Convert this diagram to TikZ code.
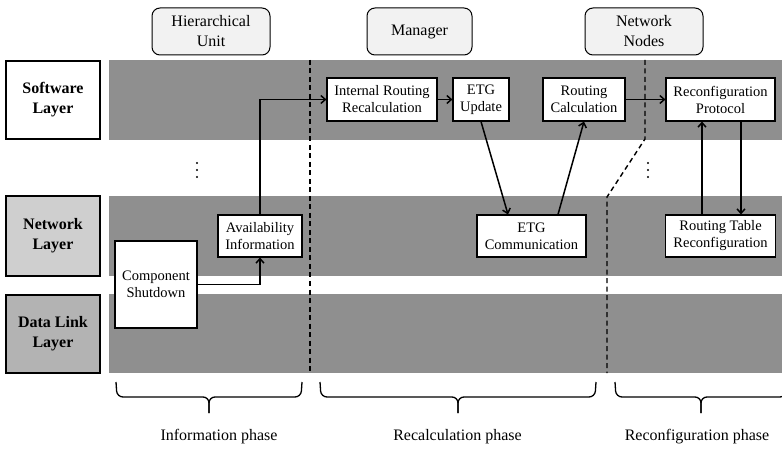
\documentclass[tikz,border=0pt]{standalone}
\usepackage{fontspec}
\setmainfont{Liberation Serif}
\usetikzlibrary{arrows.meta}

\definecolor{figBand}{HTML}{8F8F8F}
\definecolor{figNet}{HTML}{CFCFCF}
\definecolor{figLink}{HTML}{B3B3B3}
\definecolor{figHead}{HTML}{F2F2F2}

\begin{document}
\begin{tikzpicture}[x=1pt,y=-1pt,
    layerbox/.style={draw,line width=1.1pt,minimum width=94pt,minimum height=78pt,inner sep=0pt,align=center,font={\fontsize{16}{20}\selectfont\bfseries}},
    headbox/.style={draw,fill=figHead,rounded corners=8pt,line width=1pt,minimum height=47pt,inner sep=0pt,align=center,font={\fontsize{16}{20}\selectfont}},
    procbox/.style={draw,fill=white,line width=1.1pt,minimum height=43pt,inner sep=0pt,align=center,font={\fontsize{14.5}{17}\selectfont}},
    flow/.style={line width=1.5pt,-{Straight Barb[length=4.5pt,width=8pt]}},
    phase/.style={dashed,line width=1.4pt,dash pattern=on 5pt off 3.5pt}]
  \clip (0,0) rectangle (782,449);
  % layer bands
  \fill[figBand] (109,60) rectangle (782,140);
  \fill[figBand] (109,196) rectangle (782,276);
  \fill[figBand] (109,294) rectangle (782,373);
  \node[layerbox,fill=white] (swlayer) at (53,100) {Software\\Layer};
  \node[layerbox,fill=figNet,minimum height=80pt] (netlayer) at (53,236) {Network\\Layer};
  \node[layerbox,fill=figLink] (linklayer) at (53,334) {Data Link\\Layer};
  % actors
  \node[headbox,minimum width=118pt] (hierunit) at (211,31.5) {Hierarchical\\Unit};
  \node[headbox,minimum width=105pt] (manager) at (419.5,31.5) {Manager};
  \node[headbox,minimum width=118pt] (netnodes) at (644,31.5) {Network\\Nodes};
  % phase borders
  \draw[phase] (310,60) -- (310,373);
  \draw[phase] (645,60) -- (645,139) -- (607,197) -- (607,373);
  \foreach \dy in {-7,0,7} {
    \fill (197,170+\dy) circle (1.2);
    \fill (648,170+\dy) circle (1.2);
  }
  % steps
  \node[procbox,minimum width=82pt,minimum height=87pt] (shutdown) at (156,284.5) {Component\\Shutdown};
  \node[procbox,minimum width=84pt,minimum height=42pt] (avail) at (260,236) {Availability\\Information};
  \node[procbox,minimum width=110pt] (intern) at (382,99.5) {Internal Routing\\Recalculation};
  \node[procbox,minimum width=56pt] (etgupd) at (481,99.5) {ETG\\Update};
  \node[procbox,minimum width=109pt,minimum height=42pt] (etgcomm) at (531.5,236) {ETG\\Communication};
  \node[procbox,minimum width=82pt] (routcalc) at (584,99.5) {Routing\\Calculation};
  \node[procbox,minimum width=109pt] (reconfprot) at (720.5,99.5) {Reconfiguration\\Protocol};
  \node[procbox,minimum width=110pt,minimum height=42pt] (rtable) at (720.5,236) {Routing Table\\Reconfiguration};
  % connectors
  \draw[flow] (shutdown.east) -| (avail.south);
  \draw[flow] (avail.north) |- (intern.west);
  \draw[flow] (intern.east) -- (etgupd.west);
  \draw[flow] (etgupd.south) -- ([xshift=-23.5pt]etgcomm.north);
  \draw[flow] ([xshift=26.5pt]etgcomm.north) -- (routcalc.south);
  \draw[flow] (routcalc.east) -- (reconfprot.west);
  \draw[flow] ([xshift=-18.5pt]rtable.north) -- ([xshift=-18.5pt]reconfprot.south);
  \draw[flow] ([xshift=20.5pt]reconfprot.south) -- ([xshift=20.5pt]rtable.north);
  % phase braces
  \foreach \xa/\xb in {116/302,320/596,615/787} {
    \draw[line width=1.3pt,rounded corners=6pt] (\xa,382) -- (\xa+1,397) -- ({(\xa+\xb)/2},397) -- ({(\xa+\xb)/2},413);
    \draw[line width=1.3pt,rounded corners=6pt] (\xb,382) -- (\xb-1,397) -- ({(\xa+\xb)/2},397) -- ({(\xa+\xb)/2},413);
  }
  \node[font={\fontsize{16}{20}\selectfont}] (infophase) at (219,437) {Information phase};
  \node[font={\fontsize{16}{20}\selectfont}] (recalcphase) at (457.5,437) {Recalculation phase};
  \node[font={\fontsize{16}{20}\selectfont}] (reconfphase) at (697,437) {Reconfiguration phase};
\end{tikzpicture}
\end{document}
